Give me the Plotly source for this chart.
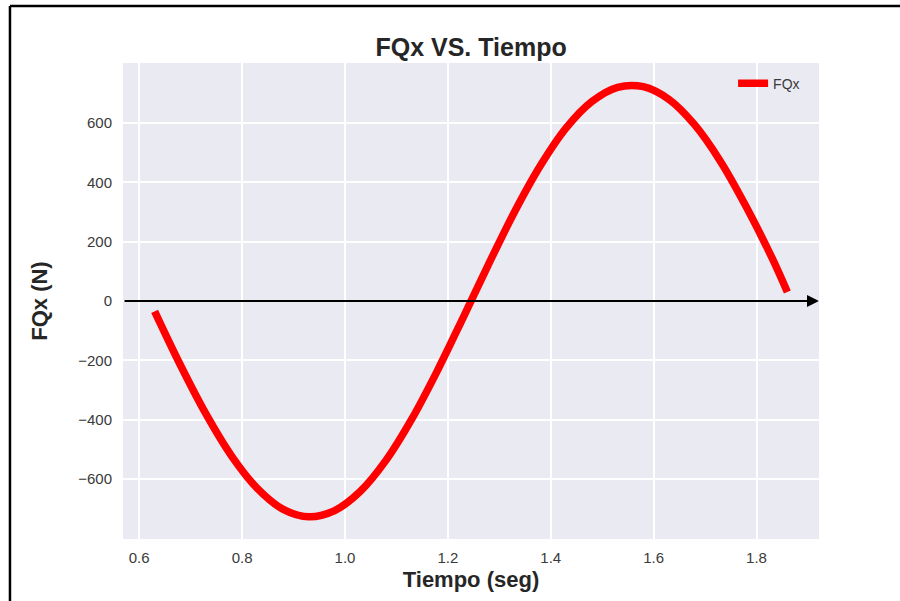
import plotly.graph_objects as go

# Time samples (s) and horizontal force FQx (N)
tiempo = [0.63, 0.68, 0.73, 0.78, 0.83, 0.88, 0.93, 0.98, 1.03, 1.08, 1.13, 1.18, 1.23,
          1.28, 1.33, 1.38, 1.43, 1.48, 1.53, 1.58, 1.63, 1.68, 1.73, 1.78, 1.83, 1.86]
fqx = [-35, -216, -382, -524, -633, -703, -728, -707, -642, -537, -398, -234, -55,
       127, 302, 457, 584, 673, 721, 723, 680, 594, 471, 318, 146, 30]

x_ticks = [0.6, 0.8, 1.0, 1.2, 1.4, 1.6, 1.8]
y_ticks = [-600, -400, -200, 0, 200, 400, 600]

x_range = [0.5685, 1.9215]
y_range = [-803, 803]

TEXT = "#262626"
FONT = "Liberation Sans, Arial, sans-serif"

fig = go.Figure()
fig.add_trace(go.Scatter(
    x=tiempo, y=fqx, mode="lines", name="FQx",
    line=dict(color="#ff0000", width=7.5, shape="spline"),
))

# zero reference arrow across the full x span
fig.add_annotation(
    x=x_range[1], y=0, ax=x_range[0], ay=0,
    xref="x", yref="y", axref="x", ayref="y",
    showarrow=True, arrowhead=2, arrowsize=1.2, arrowwidth=2,
    arrowcolor="black", text="",
)

# outer frame lines
fig.add_shape(type="line", xref="paper", yref="paper",
              x0=-0.1624, x1=1.2, y0=1.1197, y1=1.1197,
              line=dict(color="black", width=2.5))
fig.add_shape(type="line", xref="paper", yref="paper",
              x0=-0.1624, x1=-0.1624, y0=1.1197, y1=-0.2,
              line=dict(color="black", width=2.5))

fig.update_layout(
    width=900, height=601,
    margin=dict(l=123, r=81, t=63, b=62),
    paper_bgcolor="white",
    plot_bgcolor="#eaeaf2",
    font=dict(family=FONT, color=TEXT, size=14),
    title=dict(text="<b>FQx VS. Tiempo</b>", x=0.5234, xanchor="center",
               y=0.922, yanchor="middle",
               font=dict(size=25, color=TEXT, family=FONT)),
    showlegend=True,
    legend=dict(x=0.98, y=0.99, xanchor="right", yanchor="top",
                bgcolor="rgba(0,0,0,0)", font=dict(size=14, color="#3a3a3a")),
    xaxis=dict(
        range=x_range, tickvals=x_ticks, ticktext=[f"{v:.1f}" for v in x_ticks],
        showgrid=True, gridcolor="white", gridwidth=1.5, zeroline=False,
        showline=False, ticks="", ticklabelstandoff=8,
        tickfont=dict(size=15, color="#3a3a3a"),
        title=dict(text="<b>Tiempo (seg)</b>", font=dict(size=22, color=TEXT), standoff=6),
    ),
    yaxis=dict(
        range=y_range, tickvals=y_ticks,
        ticktext=[("\u2212" + str(abs(v))) if v < 0 else str(v) for v in y_ticks],
        showgrid=True, gridcolor="white", gridwidth=1.5, zeroline=False,
        showline=False, ticks="", ticklabelstandoff=10,
        tickfont=dict(size=15, color="#3a3a3a"),
        title=dict(text="<b>FQx (N)</b>", font=dict(size=22, color=TEXT), standoff=24),
    ),
)

fig.write_html("out.html")
